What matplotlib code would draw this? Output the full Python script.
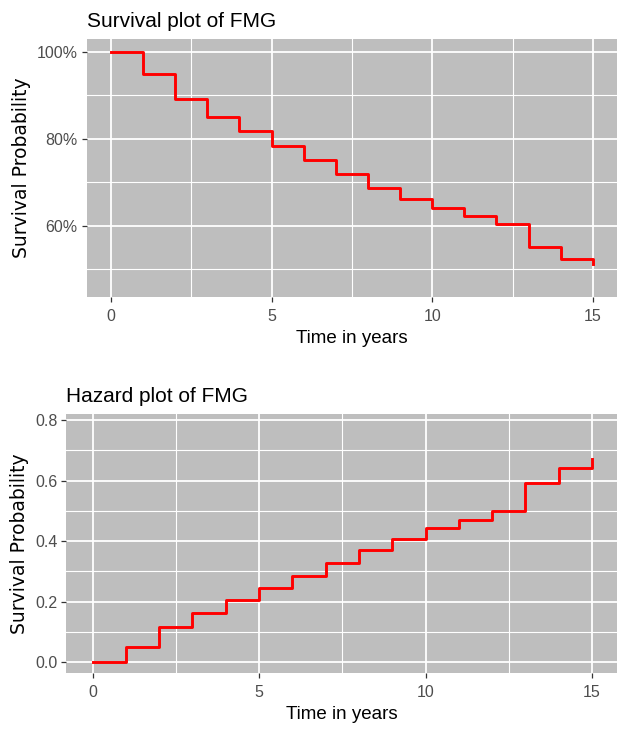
import numpy as np
import matplotlib.pyplot as plt
from matplotlib.ticker import FuncFormatter, MultipleLocator

# Kaplan-Meier style estimates for FMG, yearly steps
years = np.arange(0, 16)
survival = [1.000, 0.949, 0.892, 0.849, 0.817, 0.784, 0.752, 0.719,
            0.687, 0.662, 0.640, 0.622, 0.605, 0.551, 0.523, 0.513]
hazard = [0.000, 0.050, 0.115, 0.163, 0.204, 0.244, 0.285, 0.326,
          0.371, 0.408, 0.444, 0.469, 0.499, 0.591, 0.643, 0.670]

FONT = ['Liberation Sans Narrow', 'Liberation Sans', 'DejaVu Sans']
plt.rcParams['font.family'] = FONT

PANEL = '#bebebe'
TICK_COL = '#4d4d4d'


def style_axes(ax, x_lim, y_lim):
    ax.set_facecolor(PANEL)
    for s in ax.spines.values():
        s.set_visible(False)
    ax.set_xlim(*x_lim)
    ax.set_ylim(*y_lim)
    ax.xaxis.set_major_locator(MultipleLocator(5))
    ax.xaxis.set_minor_locator(MultipleLocator(2.5))
    ax.grid(which='major', color='white', linewidth=1.3)
    ax.grid(which='minor', color='white', linewidth=0.8)
    ax.set_axisbelow(True)
    ax.tick_params(which='major', length=3.5, width=0.9, color='#333333',
                   labelsize=11.5, labelcolor=TICK_COL)
    ax.tick_params(axis='x', which='major', pad=5)
    ax.tick_params(axis='y', which='major', pad=3)
    ax.tick_params(which='minor', length=0)
    ax.set_xlabel('Time in years', fontsize=13.5, color='black', labelpad=4)
    ax.set_ylabel('Survival Probability', fontsize=13.5, color='black',
                  family=['DejaVu Sans'], labelpad=4)


fig = plt.figure(figsize=(6.18, 7.36), dpi=100)

# survival curve
ax1 = fig.add_axes([0.1403, 0.596, 0.8581, 0.351])
style_axes(ax1, (-0.75, 15.75), (0.436, 1.029))
ax1.yaxis.set_major_locator(MultipleLocator(0.2))
ax1.yaxis.set_minor_locator(MultipleLocator(0.1))
ax1.yaxis.set_major_formatter(FuncFormatter(lambda v, p: f'{v*100:.0f}%'))
ax1.plot(years, survival, drawstyle='steps-post', color='red', linewidth=2.1)
ax1.set_title('Survival plot of FMG', loc='left', fontsize=15, pad=9)

# cumulative hazard
ax2 = fig.add_axes([0.1073, 0.0852, 0.8911, 0.3518])
style_axes(ax2, (-0.79, 15.75), (-0.037, 0.819))
ax2.yaxis.set_major_locator(MultipleLocator(0.2))
ax2.yaxis.set_minor_locator(MultipleLocator(0.1))
ax2.yaxis.set_major_formatter(FuncFormatter(lambda v, p: f'{v:.1f}'))
ax2.plot(years, hazard, drawstyle='steps-post', color='red', linewidth=2.1)
ax2.set_title('Hazard plot of FMG', loc='left', fontsize=15, pad=9)

plt.savefig('out.png', dpi=100)
